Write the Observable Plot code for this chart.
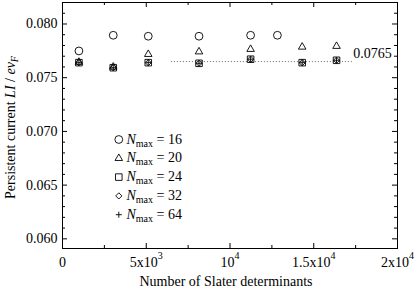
<!DOCTYPE html>
<html><head><meta charset="utf-8">
<script src="https://cdn.jsdelivr.net/npm/d3@7"></script>
<script src="https://cdn.jsdelivr.net/npm/@observablehq/plot@0.6"></script>
<style>body{margin:0;background:#fff} svg{display:block}</style>
</head><body><div id="chart"></div>
<script>
// ---- data ----
const nmax = [16, 20, 24, 32, 64];
const xN16 = [980, 3030, 5120, 8150, 11230, 12830];
const yN16 = [0.07749, 0.07895, 0.07886, 0.07886, 0.07895, 0.07895];
const xN20 = [980, 3030, 5120, 8150, 11230, 14310, 16360];
const yN20 = [0.07645, 0.07600, 0.07718, 0.07742, 0.07765, 0.07786, 0.07793];
const xN24 = [980, 3030, 5120, 8150, 11230, 14310, 16360];
const yN24 = [0.07640, 0.07593, 0.07640, 0.07634, 0.07672, 0.07640, 0.07662];
const xN32 = [980, 3030, 5120, 8150, 11230, 14310, 16360];
const yN32 = [0.07640, 0.07593, 0.07640, 0.07634, 0.07672, 0.07640, 0.07662];
const xN64 = [980, 3030, 5120, 8150, 11230, 14310, 16360];
const yN64 = [0.07640, 0.07593, 0.07640, 0.07634, 0.07672, 0.07640, 0.07662];

const xTicks = [0, 5000, 10000, 15000, 20000];
const xTickBase = ["0", "5x10", "10", "1.5x10", "2x10"];
const xTickExp = ["", "3", "4", "4", "4"];
const xMinor = [2500, 7500, 12500, 17500];
const yTicks = [0.060, 0.065, 0.070, 0.075, 0.080];
const yTickLabels = ["0.060", "0.065", "0.070", "0.075", "0.080"];
const yMinor = [0.061, 0.062, 0.063, 0.064, 0.066, 0.067, 0.068, 0.069, 0.071, 0.072, 0.073, 0.074, 0.076, 0.077, 0.078, 0.079, 0.081];
const refValue = 0.0765;
const refLabel = "0.0765";
const refStart = 6500;
const refEnd = 17300;

// ---- build ----
const xs = [xN16, xN20, xN24, xN32, xN64];
const ys = [yN16, yN20, yN24, yN32, yN64];
const symbolOf = ["circle", "triangle2", "square", "diamond2", "plus"];
const rOf = [3.9, 3.6, 3.7, 2.8, 2.1];
const series = nmax.map((n, i) => xs[i].map((x, j) => ({n, x, y: ys[i][j]})));

const W = 415, H = 290, mL = 62, mR = 18, mT = 2, mB = 42;
const pw = W - mL - mR, ph = H - mT - mB;

const dotMarks = series.map((rows, i) => Plot.dot(rows, {x: "x", y: "y", symbol: symbolOf[i], r: rOf[i], stroke: "black", strokeWidth: 0.9, fill: "none"})).reverse();
const legendMarks = nmax.map((n, i) => Plot.dot([n], {frameAnchor: "top-left", dx: 56.3, dy: 137 + 18.8 * i, symbol: symbolOf[i], r: rOf[i], stroke: "black", strokeWidth: 0.9, fill: "none"}));

const chart = Plot.plot({
  width: W, height: H,
  marginLeft: mL, marginRight: mR, marginTop: mT, marginBottom: mB,
  style: {fontFamily: "'Liberation Serif', 'Times New Roman', serif", fontSize: "14px", background: "white", color: "black"},
  x: {domain: [0, 20000], label: null},
  y: {domain: [0.0591, 0.082], label: null},
  marks: [
    Plot.ruleY([refValue], {x1: refStart, x2: refEnd, stroke: "#666", strokeWidth: 1, strokeDasharray: "1,2"}),
    Plot.text([{x: refEnd, y: refValue, t: refLabel}], {x: "x", y: "y", text: "t", textAnchor: "start", dx: 1, dy: -8, fill: "black"}),
    ...dotMarks,
    ...legendMarks,
    Plot.ruleX(xTicks, {insetTop: ph - 5, stroke: "black"}),
    Plot.ruleX(xTicks, {insetBottom: ph - 5, stroke: "black"}),
    Plot.ruleX(xMinor, {insetTop: ph - 3, stroke: "black"}),
    Plot.ruleX(xMinor, {insetBottom: ph - 3, stroke: "black"}),
    Plot.ruleY(yTicks, {insetRight: pw - 5, stroke: "black"}),
    Plot.ruleY(yTicks, {insetLeft: pw - 5, stroke: "black"}),
    Plot.ruleY(yMinor, {insetRight: pw - 3, stroke: "black"}),
    Plot.ruleY(yMinor, {insetLeft: pw - 3, stroke: "black"}),
    Plot.axisX({ticks: xTicks, tickSize: 0, tickPadding: 9, tickFormat: d => xTickBase[xTicks.indexOf(d)], label: null}),
    Plot.axisY({ticks: yTicks, tickSize: 0, tickPadding: 5, tickFormat: d => yTickLabels[yTicks.indexOf(d)], label: null}),
    Plot.frame({stroke: "black"})
  ]
});
document.getElementById("chart").append(chart);

// superscripts on x tick labels (whole label centred on its tick)
const svg = d3.select(chart);
svg.selectAll('g[aria-label="x-axis tick label"] text').each(function() {
  const idx = xTickBase.indexOf(this.textContent);
  const exp = idx >= 0 ? xTickExp[idx] : "";
  if (!exp) return;
  d3.select(this).append("tspan").attr("dy", -8).attr("font-size", 10).text(exp);
});

// axis titles
const yl = svg.append("text").attr("transform", "translate(14.5,127.5) rotate(-90)").attr("text-anchor", "middle").attr("fill", "black");
yl.append("tspan").text("Persistent current ");
yl.append("tspan").attr("font-style", "italic").text("LI");
yl.append("tspan").text(" / ");
yl.append("tspan").attr("font-style", "italic").text("ev");
yl.append("tspan").attr("font-style", "italic").attr("font-size", 10).attr("dy", 3).text("F");

svg.append("text").attr("x", 226).attr("y", 286).attr("text-anchor", "middle").attr("fill", "black").text("Number of Slater determinants");

// legend labels
nmax.forEach((n, i) => {
  const t = svg.append("text").attr("x", 126.5).attr("y", 143.5 + 18.8 * i).attr("text-anchor", "start").attr("fill", "black");
  t.append("tspan").attr("font-style", "italic").text("N");
  t.append("tspan").attr("font-size", 10).attr("dy", 3).text("max");
  t.append("tspan").attr("dy", -3).text(" = " + n);
});
</script>
</body></html>
